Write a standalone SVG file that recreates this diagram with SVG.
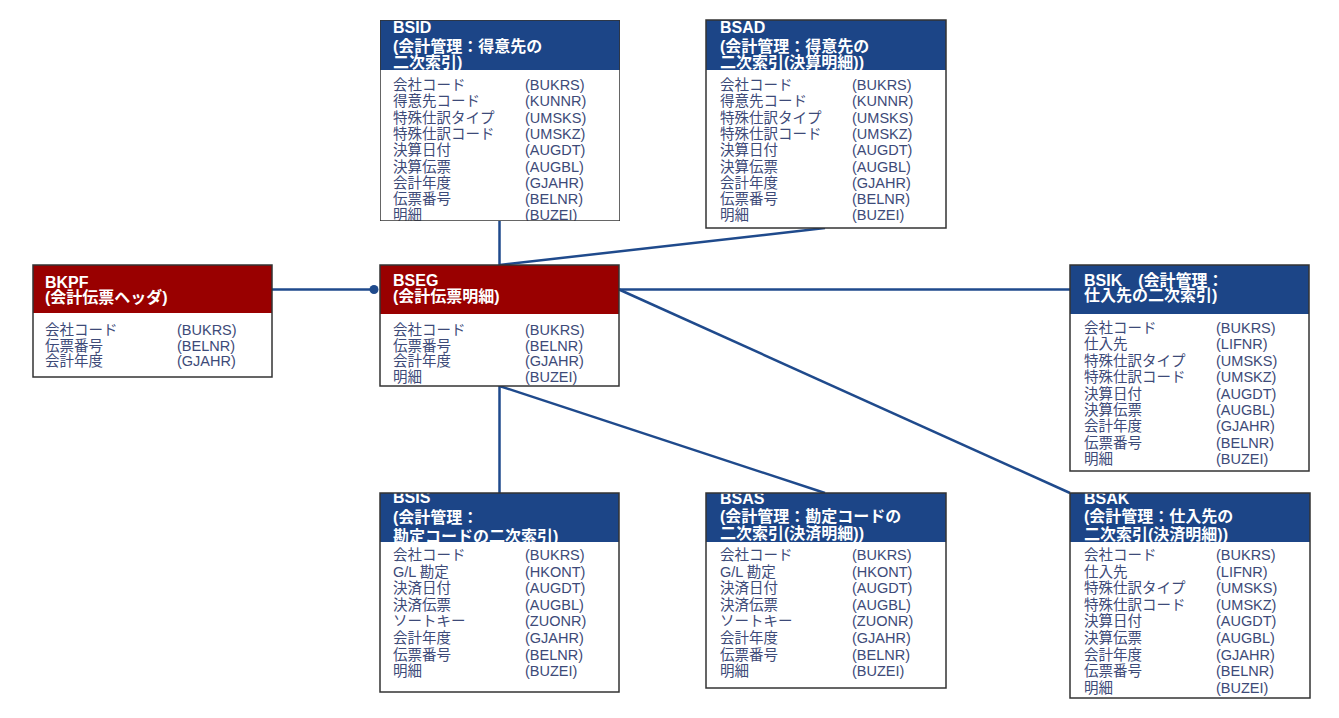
<svg xmlns="http://www.w3.org/2000/svg" width="1339" height="718" viewBox="0 0 1339 718">
<style>
text{font-family:"Liberation Sans","Noto Sans CJK JP",sans-serif}
.t{font-size:16px;font-weight:bold;fill:#ffffff}
.b{font-size:14.5px;fill:#3d4a78}
.hb{fill:#1c4587}
.hr{fill:#990000}
.body{fill:#ffffff}
.ol{fill:none;stroke:#333333;stroke-width:1.5}
.c{fill:none;stroke:#1f4a8c;stroke-width:2.5}
</style>
<defs>
<clipPath id="cpBSID"><rect x="380" y="20" width="240" height="201"/></clipPath>
</defs>
<rect width="1339" height="718" fill="#ffffff"/>
<g id="connectors">
<path class="c" d="M272,289.5 H374"/>
<circle cx="374" cy="289.5" r="4.5" fill="#1f4a8c"/>
<path class="c" d="M499.5,221 V265"/>
<path class="c" d="M825,228 L499.5,265"/>
<path class="c" d="M619,289.5 H1070"/>
<path class="c" d="M499.5,386 V493"/>
<path class="c" d="M499.5,386 L825,493"/>
<path class="c" d="M619,289.5 L1070,493"/>
</g>
<g id="BSID" clip-path="url(#cpBSID)">
<rect class="hb" x="380" y="20" width="240" height="50"/>
<text class="t" x="393" y="33">BSID</text>
<text class="t" x="393" y="52">(会計管理：得意先の</text>
<text class="t" x="393" y="68">二次索引)</text>
<rect class="body" x="380" y="70" width="240" height="151"/>
<text class="b" x="393" y="90">会社コード</text><text class="b" x="525" y="90">(BUKRS)</text>
<text class="b" x="393" y="106.3">得意先コード</text><text class="b" x="525" y="106.3">(KUNNR)</text>
<text class="b" x="393" y="122.6">特殊仕訳タイプ</text><text class="b" x="525" y="122.6">(UMSKS)</text>
<text class="b" x="393" y="138.9">特殊仕訳コード</text><text class="b" x="525" y="138.9">(UMSKZ)</text>
<text class="b" x="393" y="155.2">決算日付</text><text class="b" x="525" y="155.2">(AUGDT)</text>
<text class="b" x="393" y="171.5">決算伝票</text><text class="b" x="525" y="171.5">(AUGBL)</text>
<text class="b" x="393" y="187.8">会計年度</text><text class="b" x="525" y="187.8">(GJAHR)</text>
<text class="b" x="393" y="204.1">伝票番号</text><text class="b" x="525" y="204.1">(BELNR)</text>
<text class="b" x="393" y="220.4">明細</text><text class="b" x="525" y="220.4">(BUZEI)</text>
<rect class="ol" x="380" y="20" width="240" height="201"/>
</g>
<g id="BSAD">
<rect class="hb" x="706" y="20" width="240" height="50"/>
<text class="t" x="720" y="33">BSAD</text>
<text class="t" x="720" y="52">(会計管理：得意先の</text>
<text class="t" x="720" y="68">二次索引(決算明細))</text>
<rect class="body" x="706" y="70" width="240" height="158"/>
<text class="b" x="720" y="90">会社コード</text><text class="b" x="852" y="90">(BUKRS)</text>
<text class="b" x="720" y="106.3">得意先コード</text><text class="b" x="852" y="106.3">(KUNNR)</text>
<text class="b" x="720" y="122.6">特殊仕訳タイプ</text><text class="b" x="852" y="122.6">(UMSKS)</text>
<text class="b" x="720" y="138.9">特殊仕訳コード</text><text class="b" x="852" y="138.9">(UMSKZ)</text>
<text class="b" x="720" y="155.2">決算日付</text><text class="b" x="852" y="155.2">(AUGDT)</text>
<text class="b" x="720" y="171.5">決算伝票</text><text class="b" x="852" y="171.5">(AUGBL)</text>
<text class="b" x="720" y="187.8">会計年度</text><text class="b" x="852" y="187.8">(GJAHR)</text>
<text class="b" x="720" y="204.1">伝票番号</text><text class="b" x="852" y="204.1">(BELNR)</text>
<text class="b" x="720" y="220.4">明細</text><text class="b" x="852" y="220.4">(BUZEI)</text>
<rect class="ol" x="706" y="20" width="240" height="208"/>
</g>
<g id="BKPF">
<rect class="hr" x="33" y="265" width="239" height="48"/>
<text class="t" x="45" y="288">BKPF</text>
<text class="t" x="45" y="303">(会計伝票ヘッダ)</text>
<rect class="body" x="33" y="313" width="239" height="64"/>
<text class="b" x="45" y="335">会社コード</text><text class="b" x="177" y="335">(BUKRS)</text>
<text class="b" x="45" y="351">伝票番号</text><text class="b" x="177" y="351">(BELNR)</text>
<text class="b" x="45" y="366">会計年度</text><text class="b" x="177" y="366">(GJAHR)</text>
<rect class="ol" x="33" y="265" width="239" height="112"/>
</g>
<g id="BSEG">
<rect class="hr" x="380" y="265" width="239" height="49"/>
<text class="t" x="393" y="286">BSEG</text>
<text class="t" x="393" y="302">(会計伝票明細)</text>
<rect class="body" x="380" y="314" width="239" height="72"/>
<text class="b" x="393" y="335">会社コード</text><text class="b" x="525" y="335">(BUKRS)</text>
<text class="b" x="393" y="351">伝票番号</text><text class="b" x="525" y="351">(BELNR)</text>
<text class="b" x="393" y="366">会計年度</text><text class="b" x="525" y="366">(GJAHR)</text>
<text class="b" x="393" y="382">明細</text><text class="b" x="525" y="382">(BUZEI)</text>
<rect class="ol" x="380" y="265" width="239" height="121"/>
</g>
<g id="BSIK">
<rect class="hb" x="1070" y="265" width="239" height="49"/>
<text class="t" x="1084" y="285.5">BSIK　(会計管理：</text>
<text class="t" x="1084" y="301">仕入先の二次索引)</text>
<rect class="body" x="1070" y="314" width="239" height="157"/>
<text class="b" x="1084" y="333">会社コード</text><text class="b" x="1216" y="333">(BUKRS)</text>
<text class="b" x="1084" y="349.4">仕入先</text><text class="b" x="1216" y="349.4">(LIFNR)</text>
<text class="b" x="1084" y="365.8">特殊仕訳タイプ</text><text class="b" x="1216" y="365.8">(UMSKS)</text>
<text class="b" x="1084" y="382.2">特殊仕訳コード</text><text class="b" x="1216" y="382.2">(UMSKZ)</text>
<text class="b" x="1084" y="398.6">決算日付</text><text class="b" x="1216" y="398.6">(AUGDT)</text>
<text class="b" x="1084" y="415">決算伝票</text><text class="b" x="1216" y="415">(AUGBL)</text>
<text class="b" x="1084" y="431.4">会計年度</text><text class="b" x="1216" y="431.4">(GJAHR)</text>
<text class="b" x="1084" y="447.8">伝票番号</text><text class="b" x="1216" y="447.8">(BELNR)</text>
<text class="b" x="1084" y="464.2">明細</text><text class="b" x="1216" y="464.2">(BUZEI)</text>
<rect class="ol" x="1070" y="265" width="239" height="206"/>
</g>
<g id="BSIS">
<rect class="hb" x="380" y="493" width="239" height="49"/>
<text class="t" x="393" y="503">BSIS</text>
<text class="t" x="393" y="523">(会計管理：</text>
<text class="t" x="393" y="542">勘定コードの二次索引)</text>
<rect class="body" x="380" y="542" width="239" height="150"/>
<text class="b" x="393" y="560">会社コード</text><text class="b" x="525" y="560">(BUKRS)</text>
<text class="b" x="393" y="576.6">G/L 勘定</text><text class="b" x="525" y="576.6">(HKONT)</text>
<text class="b" x="393" y="593.2">決済日付</text><text class="b" x="525" y="593.2">(AUGDT)</text>
<text class="b" x="393" y="609.8">決済伝票</text><text class="b" x="525" y="609.8">(AUGBL)</text>
<text class="b" x="393" y="626.4">ソートキー</text><text class="b" x="525" y="626.4">(ZUONR)</text>
<text class="b" x="393" y="643">会計年度</text><text class="b" x="525" y="643">(GJAHR)</text>
<text class="b" x="393" y="659.6">伝票番号</text><text class="b" x="525" y="659.6">(BELNR)</text>
<text class="b" x="393" y="676.2">明細</text><text class="b" x="525" y="676.2">(BUZEI)</text>
<rect class="ol" x="380" y="493" width="239" height="199"/>
</g>
<g id="BSAS">
<rect class="hb" x="706" y="493" width="240" height="49"/>
<text class="t" x="720" y="504">BSAS</text>
<text class="t" x="720" y="522">(会計管理：勘定コードの</text>
<text class="t" x="720" y="539">二次索引(決済明細))</text>
<rect class="body" x="706" y="542" width="240" height="146"/>
<text class="b" x="720" y="560">会社コード</text><text class="b" x="852" y="560">(BUKRS)</text>
<text class="b" x="720" y="576.6">G/L 勘定</text><text class="b" x="852" y="576.6">(HKONT)</text>
<text class="b" x="720" y="593.2">決済日付</text><text class="b" x="852" y="593.2">(AUGDT)</text>
<text class="b" x="720" y="609.8">決済伝票</text><text class="b" x="852" y="609.8">(AUGBL)</text>
<text class="b" x="720" y="626.4">ソートキー</text><text class="b" x="852" y="626.4">(ZUONR)</text>
<text class="b" x="720" y="643">会計年度</text><text class="b" x="852" y="643">(GJAHR)</text>
<text class="b" x="720" y="659.6">伝票番号</text><text class="b" x="852" y="659.6">(BELNR)</text>
<text class="b" x="720" y="676.2">明細</text><text class="b" x="852" y="676.2">(BUZEI)</text>
<rect class="ol" x="706" y="493" width="240" height="195"/>
</g>
<g id="BSAK">
<rect class="hb" x="1070" y="493" width="240" height="49"/>
<text class="t" x="1084" y="504">BSAK</text>
<text class="t" x="1084" y="522">(会計管理：仕入先の</text>
<text class="t" x="1084" y="540">二次索引(決済明細))</text>
<rect class="body" x="1070" y="542" width="240" height="156"/>
<text class="b" x="1084" y="560">会社コード</text><text class="b" x="1216" y="560">(BUKRS)</text>
<text class="b" x="1084" y="576.6">仕入先</text><text class="b" x="1216" y="576.6">(LIFNR)</text>
<text class="b" x="1084" y="593.2">特殊仕訳タイプ</text><text class="b" x="1216" y="593.2">(UMSKS)</text>
<text class="b" x="1084" y="609.8">特殊仕訳コード</text><text class="b" x="1216" y="609.8">(UMSKZ)</text>
<text class="b" x="1084" y="626.4">決算日付</text><text class="b" x="1216" y="626.4">(AUGDT)</text>
<text class="b" x="1084" y="643">決算伝票</text><text class="b" x="1216" y="643">(AUGBL)</text>
<text class="b" x="1084" y="659.6">会計年度</text><text class="b" x="1216" y="659.6">(GJAHR)</text>
<text class="b" x="1084" y="676.2">伝票番号</text><text class="b" x="1216" y="676.2">(BELNR)</text>
<text class="b" x="1084" y="692.8">明細</text><text class="b" x="1216" y="692.8">(BUZEI)</text>
<rect class="ol" x="1070" y="493" width="240" height="205"/>
</g>
</svg>
